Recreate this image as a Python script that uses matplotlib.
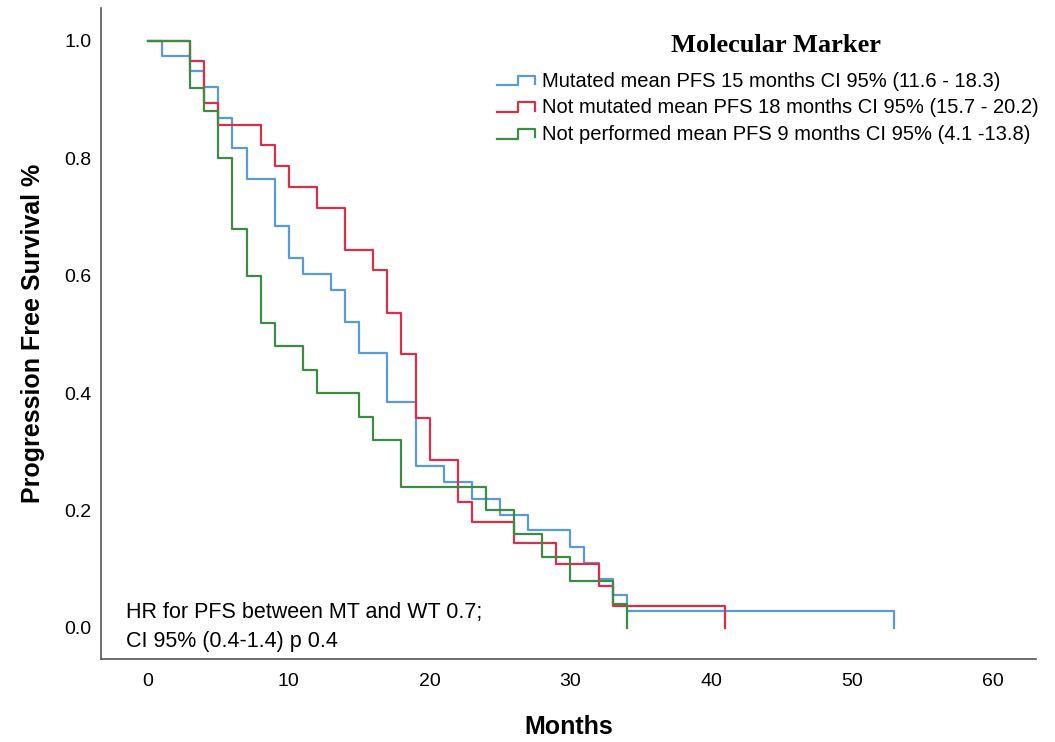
import numpy as np
import matplotlib
matplotlib.use("Agg")
import matplotlib.pyplot as plt
from matplotlib.lines import Line2D
from matplotlib.legend_handler import HandlerBase

# survival steps (months, fraction)
mut_t = [0, 1, 3, 4, 5, 6, 7, 9, 10, 11, 13, 14, 15, 17, 19, 21, 23, 25, 27, 30, 31, 32, 33, 34, 53]
mut_s = [1.0, 0.975, 0.948, 0.921, 0.868, 0.817, 0.764, 0.685, 0.630, 0.603, 0.576, 0.521, 0.468,
         0.384, 0.276, 0.248, 0.220, 0.193, 0.166, 0.137, 0.110, 0.083, 0.056, 0.029, 0.0]

wt_t = [0, 3, 4, 5, 8, 9, 10, 12, 14, 16, 17, 18, 19, 20, 22, 23, 26, 29, 32, 33, 41]
wt_s = [1.0, 0.965, 0.894, 0.857, 0.822, 0.786, 0.751, 0.715, 0.644, 0.609, 0.536, 0.466, 0.358,
        0.286, 0.215, 0.180, 0.144, 0.108, 0.072, 0.037, 0.0]

np_t = [0, 3, 4, 5, 6, 7, 8, 9, 11, 12, 15, 16, 18, 24, 26, 28, 30, 33, 34]
np_s = [1.0, 0.92, 0.88, 0.80, 0.68, 0.60, 0.52, 0.48, 0.44, 0.40, 0.36, 0.32, 0.24, 0.20,
        0.16, 0.12, 0.08, 0.04, 0.0]

labels = ["Mutated mean PFS 15 months CI 95% (11.6 - 18.3)",
          "Not mutated mean PFS 18 months CI 95% (15.7 - 20.2)",
          "Not performed mean PFS 9 months CI 95% (4.1 -13.8)"]
colors = ["#5b9bd5", "#d9304a", "#3f8a45"]

xticks = [0, 10, 20, 30, 40, 50, 60]
yticks = [0.0, 0.2, 0.4, 0.6, 0.8, 1.0]

plt.rcParams['font.family'] = ['Liberation Sans', 'DejaVu Sans']


# little step glyph used in the legend, like SPSS does
class StepHandler(HandlerBase):
    def create_artists(self, legend, orig, xd, yd, w, h, fontsize, trans):
        xs = [xd, xd + 0.55 * w, xd + 0.55 * w, xd + w, xd + w]
        ys = [yd + 0.1 * h, yd + 0.1 * h, yd + 0.8 * h, yd + 0.8 * h, yd + 0.2 * h]
        ln = Line2D(xs, ys, color=orig.get_color(), lw=orig.get_linewidth())
        ln.set_transform(trans)
        return [ln]


fig = plt.figure(figsize=(10.55, 7.42), dpi=100)
ax = fig.add_axes([0.0957, 0.1119, 0.8863, 0.8773])

lines = []
for t, s, c, lab in zip([mut_t, wt_t, np_t], [mut_s, wt_s, np_s], colors, labels):
    ln, = ax.step(t, s, where='post', color=c, lw=1.6, label=lab)
    lines.append(ln)

ax.set_xlim(-3.34, 63.07)
ax.set_ylim(-0.053, 1.056)
ax.set_xticks(xticks)
ax.set_yticks(yticks)
ax.set_yticklabels(["%.1f" % v for v in yticks])
ax.tick_params(length=0, labelsize=14)
ax.tick_params(axis='y', pad=7)
ax.tick_params(axis='x', pad=10)
for sp in ['top', 'right']:
    ax.spines[sp].set_visible(False)
for sp in ['left', 'bottom']:
    ax.spines[sp].set_color('#555555')
    ax.spines[sp].set_linewidth(1.2)

ax.set_xlabel("Months", fontsize=18, fontweight='bold', labelpad=18)
ax.set_ylabel("Progression Free Survival %", fontsize=18, fontweight='bold', labelpad=14)

ax.legend(handles=lines, handler_map={Line2D: StepHandler()},
          loc='upper left', bbox_to_anchor=(0.4235, 0.902), frameon=False,
          borderpad=0, borderaxespad=0,
          fontsize=14.5, handlelength=1.9, handletextpad=0.35, labelspacing=0.375)
# legend heading, drawn separately so its gap to the rows matches
ax.text(0.722, 0.943, "Molecular Marker", transform=ax.transAxes,
        fontsize=19, fontweight='bold', family='Liberation Serif',
        ha='center', va='center')

ax.text(0.0267, 0.063, "HR for PFS between MT and WT 0.7;",
        transform=ax.transAxes, fontsize=15.5, va='baseline', ha='left')
ax.text(0.0267, 0.0184, "CI 95% (0.4-1.4) p 0.4",
        transform=ax.transAxes, fontsize=15.5, va='baseline', ha='left')

fig.savefig("out.png", dpi=100)
